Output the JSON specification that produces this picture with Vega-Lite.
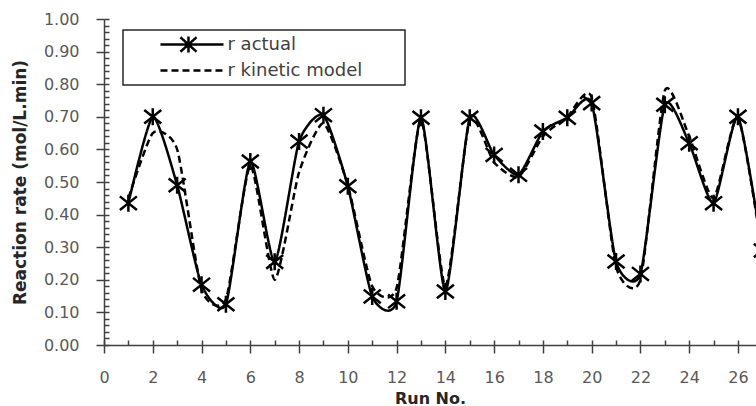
{
  "$schema": "https://vega.github.io/schema/vega-lite/v6.json",
  "width": 652,
  "height": 326,
  "autosize": {"type": "none"},
  "padding": {"left": 104, "top": 19, "right": 0, "bottom": 61},
  "background": "white",
  "config": {"view": {"stroke": null}, "font": "DejaVu Sans"},
  "datasets": {
    "series": [
      {"run": 1, "series": "r actual", "rate": 0.435},
      {"run": 2, "series": "r actual", "rate": 0.70},
      {"run": 3, "series": "r actual", "rate": 0.49},
      {"run": 4, "series": "r actual", "rate": 0.185},
      {"run": 5, "series": "r actual", "rate": 0.125},
      {"run": 6, "series": "r actual", "rate": 0.563},
      {"run": 7, "series": "r actual", "rate": 0.255},
      {"run": 8, "series": "r actual", "rate": 0.624},
      {"run": 9, "series": "r actual", "rate": 0.705},
      {"run": 10, "series": "r actual", "rate": 0.487},
      {"run": 11, "series": "r actual", "rate": 0.149},
      {"run": 12, "series": "r actual", "rate": 0.134},
      {"run": 13, "series": "r actual", "rate": 0.697},
      {"run": 14, "series": "r actual", "rate": 0.164},
      {"run": 15, "series": "r actual", "rate": 0.697},
      {"run": 16, "series": "r actual", "rate": 0.583},
      {"run": 17, "series": "r actual", "rate": 0.522},
      {"run": 18, "series": "r actual", "rate": 0.655},
      {"run": 19, "series": "r actual", "rate": 0.697},
      {"run": 20, "series": "r actual", "rate": 0.742},
      {"run": 21, "series": "r actual", "rate": 0.256},
      {"run": 22, "series": "r actual", "rate": 0.218},
      {"run": 23, "series": "r actual", "rate": 0.737},
      {"run": 24, "series": "r actual", "rate": 0.619},
      {"run": 25, "series": "r actual", "rate": 0.435},
      {"run": 26, "series": "r actual", "rate": 0.70},
      {"run": 27, "series": "r actual", "rate": 0.29},
      {"run": 1, "series": "r kinetic model", "rate": 0.45},
      {"run": 2, "series": "r kinetic model", "rate": 0.65},
      {"run": 3, "series": "r kinetic model", "rate": 0.60},
      {"run": 4, "series": "r kinetic model", "rate": 0.17},
      {"run": 5, "series": "r kinetic model", "rate": 0.14},
      {"run": 6, "series": "r kinetic model", "rate": 0.55},
      {"run": 7, "series": "r kinetic model", "rate": 0.20},
      {"run": 8, "series": "r kinetic model", "rate": 0.53},
      {"run": 9, "series": "r kinetic model", "rate": 0.68},
      {"run": 10, "series": "r kinetic model", "rate": 0.49},
      {"run": 11, "series": "r kinetic model", "rate": 0.18},
      {"run": 12, "series": "r kinetic model", "rate": 0.175},
      {"run": 13, "series": "r kinetic model", "rate": 0.69},
      {"run": 14, "series": "r kinetic model", "rate": 0.18},
      {"run": 15, "series": "r kinetic model", "rate": 0.69},
      {"run": 16, "series": "r kinetic model", "rate": 0.56},
      {"run": 17, "series": "r kinetic model", "rate": 0.515},
      {"run": 18, "series": "r kinetic model", "rate": 0.64},
      {"run": 19, "series": "r kinetic model", "rate": 0.70},
      {"run": 20, "series": "r kinetic model", "rate": 0.76},
      {"run": 21, "series": "r kinetic model", "rate": 0.24},
      {"run": 22, "series": "r kinetic model", "rate": 0.20},
      {"run": 23, "series": "r kinetic model", "rate": 0.78},
      {"run": 24, "series": "r kinetic model", "rate": 0.64},
      {"run": 25, "series": "r kinetic model", "rate": 0.45},
      {"run": 26, "series": "r kinetic model", "rate": 0.70},
      {"run": 27, "series": "r kinetic model", "rate": 0.28}
    ]
  },
  "layer": [
    {
      "data": {"name": "series"},
      "mark": {"type": "line", "interpolate": "cardinal", "tension": 0.4, "clip": true, "color": "black", "strokeWidth": 2.5},
      "encoding": {
        "x": {
          "field": "run", "type": "quantitative",
          "scale": {"domain": [0, 26.74], "nice": false, "zero": false},
          "axis": {
            "orient": "bottom", "values": [0, 2, 4, 6, 8, 10, 12, 14, 16, 18, 20, 22, 24, 26],
            "grid": false, "tickSize": 8, "tickColor": "#404040", "tickWidth": 1.5,
            "domainColor": "#404040", "domainWidth": 1.5,
            "labelFontSize": 16, "labelColor": "#595959", "labelPadding": 16, "labelFlush": false,
            "title": "Run No.", "titleFontSize": 16, "titleFontWeight": "bold", "titleColor": "#262626", "titlePadding": 5
          }
        },
        "y": {
          "field": "rate", "type": "quantitative",
          "scale": {"domain": [0, 1], "nice": false},
          "axis": {
            "orient": "left", "values": [0, 0.1, 0.2, 0.3, 0.4, 0.5, 0.6, 0.7, 0.8, 0.9, 1.0],
            "format": ".2f", "grid": false, "tickSize": 8, "tickColor": "#404040", "tickWidth": 1.5,
            "domainColor": "#404040", "domainWidth": 1.5,
            "labelFontSize": 16, "labelColor": "#595959", "labelPadding": 17, "labelFlush": false,
            "title": "Reaction  rate (mol/L.min)", "titleFontSize": 17, "titleFontWeight": "bold", "titleColor": "#262626",
            "titleX": -75, "titleY": 163
          }
        },
        "strokeDash": {
          "field": "series", "type": "nominal",
          "scale": {"domain": ["r actual", "r kinetic model"], "range": [[1, 0], [7, 4]]},
          "legend": {
            "orient": "none", "legendX": 19, "legendY": 11,
            "title": "mm", "titleOrient": "right", "titleOpacity": 0, "titleFontSize": 18, "titlePadding": 0,
            "padding": 5, "strokeColor": "#262626",
            "symbolSize": 256, "symbolStrokeColor": "black", "symbolStrokeWidth": 2.5,
            "symbolFillColor": "transparent", "symbolOffset": 54.5,
            "labelFontSize": 18, "labelColor": "#404040", "labelOffset": 26, "rowPadding": 3,
            "labelLimit": 400,
            "encode": {
              "legend": {"update": {"strokeWidth": {"value": 1.5}}},
              "symbols": {"update": {"shape": [
                {"test": "datum.value === 'r actual'", "value": "M-3.94,0H3.94M-1.44,-0.9L0.56,0.9M-1.44,0.9L0.56,-0.9M-0.44,-1V1"},
                {"value": "M-3.94,0H3.94"}
              ]}}
            }
          }
        }
      }
    },
    {
      "data": {"name": "series"},
      "transform": [{"filter": "datum.series === 'r actual'"}],
      "mark": {"type": "point", "shape": "M-1,-0.8L1,0.8M-1,0.8L1,-0.8M0,-1V1", "filled": false, "size": 289, "strokeWidth": 2.5, "color": "black", "opacity": 1, "clip": true},
      "encoding": {
        "x": {
          "field": "run", "type": "quantitative",
          "axis": {
            "orient": "top", "offset": -326, "values": [0,1,2,3,4,5,6,7,8,9,10,11,12,13,14,15,16,17,18,19,20,21,22,23,24,25,26],
            "grid": false, "domain": false, "labels": false, "title": null,
            "tickSize": 5, "tickColor": "#404040", "tickWidth": 1.5
          }
        },
        "y": {
          "field": "rate", "type": "quantitative",
          "axis": {
            "orient": "right", "offset": -652, "values": [0,0.02,0.04,0.06,0.08,0.1,0.12,0.14,0.16,0.18,0.2,0.22,0.24,0.26,0.28,0.3,0.32,0.34,0.36,0.38,0.4,0.42,0.44,0.46,0.48,0.5,0.52,0.54,0.56,0.58,0.6,0.62,0.64,0.66,0.68,0.7,0.72,0.74,0.76,0.78,0.8,0.82,0.84,0.86,0.88,0.9,0.92,0.94,0.96,0.98,1.0],
            "grid": false, "domain": false, "labels": false, "title": null,
            "tickSize": 5, "tickColor": "#404040", "tickWidth": 1.5
          }
        }
      }
    },
    {
      "mark": {"type": "rule", "color": "#595959", "strokeWidth": 1.5},
      "encoding": {"y": {"datum": 1, "type": "quantitative", "axis": null}}
    }
  ],
  "resolve": {"axis": {"x": "independent", "y": "independent"}}
}
